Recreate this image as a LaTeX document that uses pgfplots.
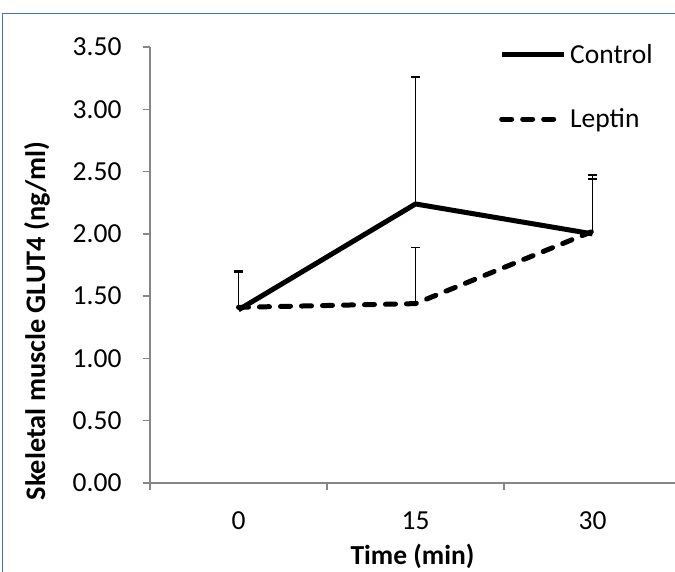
\documentclass[border=0pt]{standalone}
\usepackage{fontspec}
\setmainfont{Carlito}
\usepackage{pgfplots}
\pgfplotsset{compat=1.18}
\definecolor{framebl}{RGB}{68,114,196}
\definecolor{axgray}{RGB}{134,134,134}
\newcommand{\chartfont}{\fontsize{27.5}{33}\selectfont}
\begin{document}
\begin{tikzpicture}
\path[use as bounding box] (0,0) rectangle (675pt,-572pt);
\draw[framebl, line width=1.5pt] (2.5pt,-13.5pt) rectangle (700pt,-600pt);
\begin{axis}[
  at={(150pt,-483pt)}, anchor=south west,
  scale only axis, width=525pt, height=436pt,
  xmin=-0.5, xmax=2.466, ymin=0, ymax=3.5,
  axis x line=bottom, axis y line=left,
  axis line style={-, axgray, line width=1.3pt},
  xtick={-0.5,0.5,1.5,2.5}, xticklabels={},
  extra x ticks={0,1,2}, extra x tick labels={0,15,30},
  extra x tick style={tick style={draw=none}},
  ytick={0,0.5,1,1.5,2,2.5,3,3.5},
  tick align=outside, major tick length=7pt,
  tick style={axgray, line width=1.3pt},
  /pgf/number format/assume math mode=true,
  yticklabel style={/pgf/number format/.cd, fixed, fixed zerofill, precision=2,
    /tikz/.cd, xshift=-18pt},
  tick label style={font=\chartfont},
  xticklabel style={yshift=-18pt},
  xlabel={Time (min)}, ylabel={Skeletal muscle GLUT4 (ng/ml)},
  label style={font=\bfseries\chartfont},
  xlabel style={at={(axis description cs:0.5,-0.188)}, anchor=base},
  ylabel style={at={(axis description cs:-0.215,0.372)}, anchor=center,
    font=\bfseries\fontsize{28.3}{34}\selectfont},
  legend style={draw=none, fill=none, at={(axis description cs:0.659,1.016)},
    anchor=north west, row sep=40pt, font=\chartfont, nodes={inner xsep=4pt}},
  legend cell align=left,
  legend image code/.code={\draw[#1] (0pt,0pt) -- (62pt,0pt);},
  error bars/y dir=plus, error bars/y explicit,
  error bars/error bar style={line width=1.8pt, solid},
  error bars/error mark options={rotate=90, line width=1.8pt, mark size=4.5pt, solid},
]
\addplot[black, line width=5pt, line join=round, mark=none]
  coordinates {(0,1.39) +- (0,0.31) (1,2.24) +- (0,1.02) (2,2.00) +- (0,0.47)};
\addplot[black, line width=5pt, line join=round, line cap=round,
  dash pattern=on 10pt off 11pt, mark=none]
  coordinates {(0,1.41) +- (0,0.28) (1,1.44) +- (0,0.45) (2,2.02) +- (0,0.42)};
\legend{Control, Leptin}
\end{axis}
\end{tikzpicture}
\end{document}
